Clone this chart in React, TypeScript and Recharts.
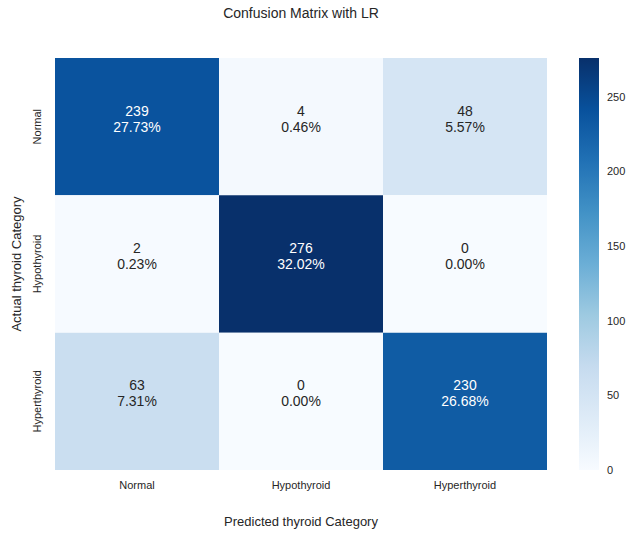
import React from 'react'
import {
  ScatterChart,
  Scatter,
  XAxis,
  YAxis,
  ReferenceArea,
  BarChart,
  Bar,
} from 'recharts'

const categories = ['Normal', 'Hypothyroid', 'Hyperthyroid']

// rows = actual, columns = predicted
const counts = [
  [239, 4, 48],
  [2, 276, 0],
  [63, 0, 230],
]

const percents = [
  ['27.73%', '0.46%', '5.57%'],
  ['0.23%', '32.02%', '0.00%'],
  ['7.31%', '0.00%', '26.68%'],
]

const colorbarTicks = [0, 50, 100, 150, 200, 250]
const vmax = 276

// matplotlib "Blues"
const BLUES = ['#f7fbff', '#deebf7', '#c6dbef', '#9ecae1', '#6baed6', '#4292c6', '#2171b5', '#08519c', '#08306b']

const FONT = '"Liberation Sans", Arial, sans-serif'
const TEXT = '#262626'

function hexToRgb(h: string) {
  const n = parseInt(h.slice(1), 16)
  return [(n >> 16) & 255, (n >> 8) & 255, n & 255]
}

function blues(t: number) {
  const p = Math.max(0, Math.min(1, t)) * (BLUES.length - 1)
  const i = Math.min(Math.floor(p), BLUES.length - 2)
  const f = p - i
  const a = hexToRgb(BLUES[i])
  const b = hexToRgb(BLUES[i + 1])
  return a.map((c, k) => Math.round(c + (b[k] - c) * f))
}

function cellColor(v: number) {
  const [r, g, b] = blues(v / vmax)
  return `rgb(${r},${g},${b})`
}

// same rule seaborn uses to pick annotation colour
function isDark(v: number) {
  const lin = blues(v / vmax).map((c) => {
    const s = c / 255
    return s <= 0.03928 ? s / 12.92 : Math.pow((s + 0.055) / 1.055, 2.4)
  })
  const lum = 0.2126 * lin[0] + 0.7152 * lin[1] + 0.0722 * lin[2]
  return lum <= 0.408
}

const cells = counts.flatMap((row, r) =>
  row.map((v, c) => ({ x: c + 0.5, y: r + 0.5, row: r, col: c, value: v, pct: percents[r][c] }))
)

function CellLabel(props: any) {
  const { cx, cy, payload } = props
  const fill = isDark(payload.value) ? '#ffffff' : TEXT
  return (
    <text x={cx} y={cy} textAnchor="middle" fill={fill} fontFamily={FONT} fontSize={14}>
      <tspan x={cx} dy={-11}>{payload.value}</tspan>
      <tspan x={cx} dy={16}>{payload.pct}</tspan>
    </text>
  )
}

function RowTick(props: any) {
  const { x, y, payload } = props
  const tx = x - 2
  return (
    <text
      x={tx}
      y={y}
      transform={`rotate(-90 ${tx} ${y})`}
      textAnchor="middle"
      fill={TEXT}
      fontFamily={FONT}
      fontSize={11}
    >
      {categories[Math.floor(payload.value)]}
    </text>
  )
}

export default function App() {
  return (
    <div style={{ position: 'absolute', left: 0, top: 0, width: 632, height: 534, background: '#fff' }}>
      <div
        style={{
          position: 'absolute',
          left: 0,
          width: 602,
          top: 5,
          textAlign: 'center',
          fontFamily: FONT,
          fontSize: 14,
          color: TEXT,
        }}
      >
        Confusion Matrix with LR
      </div>

      <div style={{ position: 'absolute', left: 0, top: 0 }}>
        <ScatterChart width={632} height={534} margin={{ top: 58, right: 85, bottom: 0, left: 0 }}>
          <XAxis
            type="number"
            dataKey="x"
            domain={[0, 3]}
            ticks={[0.5, 1.5, 2.5]}
            tickFormatter={(v: number) => categories[Math.floor(v)]}
            axisLine={false}
            tickLine={false}
            tick={{ fill: TEXT, fontSize: 11, fontFamily: FONT }}
            tickMargin={5}
            height={64}
            label={{
              value: 'Predicted thyroid Category',
              position: 'insideBottom',
              offset: 8,
              fill: TEXT,
              fontSize: 13,
              fontFamily: FONT,
            }}
          />
          <YAxis
            type="number"
            dataKey="y"
            domain={[0, 3]}
            reversed
            ticks={[0.5, 1.5, 2.5]}
            axisLine={false}
            tickLine={false}
            tick={<RowTick />}
            tickMargin={6}
            width={55}
            label={{
              value: 'Actual thyroid Category',
              angle: -90,
              position: 'insideLeft',
              offset: 16,
              style: { textAnchor: 'middle' },
              fill: TEXT,
              fontSize: 13,
              fontFamily: FONT,
            }}
          />
          {cells.map((c) => (
            <ReferenceArea
              key={`${c.row}-${c.col}`}
              x1={c.col}
              x2={c.col + 1}
              y1={c.row}
              y2={c.row + 1}
              fill={cellColor(c.value)}
              fillOpacity={1}
              stroke="none"
            />
          ))}
          <Scatter data={cells} shape={<CellLabel />} isAnimationActive={false} />
        </ScatterChart>
      </div>

      {/* colour bar */}
      <div style={{ position: 'absolute', left: 579, top: 0 }}>
        <BarChart
          width={53}
          height={534}
          data={[{ name: 'cb', v: vmax }]}
          margin={{ top: 58, right: 0, bottom: 64, left: 0 }}
          barCategoryGap={0}
        >
          <defs>
            <linearGradient id="bluesGrad" x1="0" y1="1" x2="0" y2="0">
              {BLUES.map((c, i) => (
                <stop key={c} offset={i / (BLUES.length - 1)} stopColor={c} />
              ))}
            </linearGradient>
          </defs>
          <XAxis dataKey="name" hide />
          <YAxis
            orientation="right"
            domain={[0, vmax]}
            ticks={colorbarTicks}
            axisLine={false}
            tickLine={false}
            width={33}
            tick={{ fill: TEXT, fontSize: 11, fontFamily: FONT, textAnchor: 'start' }}
            tickMargin={2}
          />
          <Bar dataKey="v" fill="url(#bluesGrad)" isAnimationActive={false} />
        </BarChart>
      </div>
    </div>
  )
}
